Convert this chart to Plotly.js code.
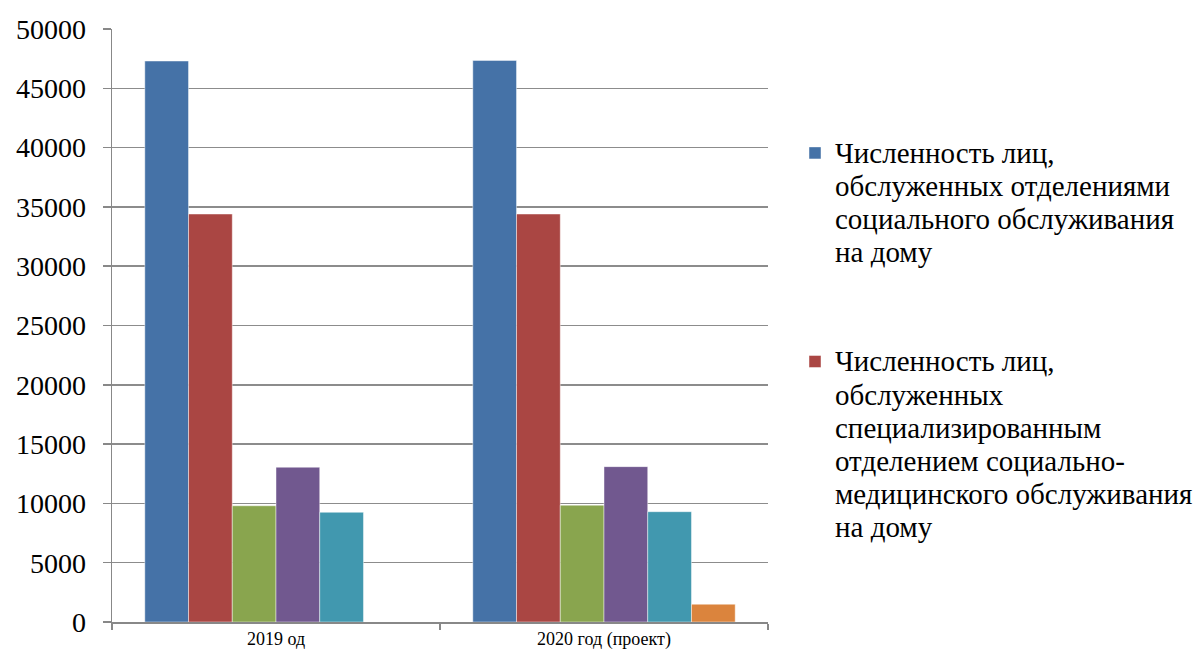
<!DOCTYPE html>
<html>
<head>
<meta charset="utf-8">
<script src="https://cdn.plot.ly/plotly-3.0.1.min.js"></script>
<style>html,body{margin:0;padding:0;background:#fff;}#chart{width:1200px;height:655px;}</style>
</head>
<body>
<div id="chart"></div>
<script>
const categories = ["2019 од", "2020 год (проект)"];
const seriesLines = [
  ["Численность лиц,", "обслуженных отделениями", "социального обслуживания", "на дому"],
  ["Численность лиц,", "обслуженных", "специализированным", "отделением социально-", "медицинского обслуживания", "на дому"],
  ["Ряд 3"],
  ["Ряд 4"],
  ["Ряд 5"],
  ["Ряд 6"]
];
const series1 = [47300, 47350];
const series2 = [34400, 34400];
const series3 = [9800, 9850];
const series4 = [13050, 13100];
const series5 = [9250, 9300];
const series6 = [null, 1500];
const yTicks = [0, 5000, 10000, 15000, 20000, 25000, 30000, 35000, 40000, 45000, 50000];

const colors = ["#4572A7", "#AA4643", "#89A54E", "#71588F", "#4198AF", "#DB843D"];
const allSeries = [series1, series2, series3, series4, series5, series6];
const FONT = "Liberation Serif";

const traces = allSeries.map((vals, i) => ({
  type: "bar",
  x: categories,
  y: vals,
  name: seriesLines[i].map(l => '<span style="font-family:Liberation Serif;font-size:29px">' + l + '</span>').join("<br>"),
  legendgroup: "g" + i,
  showlegend: i < 2,
  marker: {color: colors[i], line: {color: "rgba(255,255,255,0.45)", width: 1}},
  hoverinfo: "x+y"
}));

const layout = {
  width: 1200,
  height: 655,
  margin: {l: 112, r: 432, t: 29, b: 33},
  paper_bgcolor: "#fff",
  plot_bgcolor: "#fff",
  barmode: "group",
  bargap: 0.2,
  bargroupgap: 0,
  xaxis: {
    type: "category",
    tickson: "boundaries",
    ticks: "outside",
    ticklen: 6,
    tickcolor: "#888",
    tickwidth: 1.5,
    showline: true,
    linecolor: "#888",
    linewidth: 1.5,
    showgrid: false,
    tickfont: {size: 18, family: FONT, color: "#000"},
    automargin: false
  },
  yaxis: {
    range: [0, 50000],
    tickvals: yTicks,
    ticktext: yTicks.map(String),
    ticks: "outside",
    ticklen: 8,
    tickcolor: "#888",
    tickwidth: 1.5,
    showline: true,
    linecolor: "#888",
    linewidth: 1.5,
    showgrid: true,
    gridcolor: "#8c8c8c",
    gridwidth: 1.5,
    zeroline: false,
    ticklabelstandoff: 11,
    tickfont: {size: 28, family: FONT, color: "#000"},
    automargin: false
  },
  legend: {
    xref: "container",
    yref: "container",
    x: 0.6625,
    xanchor: "left",
    y: 0.8018,
    yanchor: "top",
    valign: "top",
    maxheight: 520,
    traceorder: "grouped",
    tracegroupgap: 73,
    font: {size: 25.5, family: FONT, color: "#000"},
    itemwidth: 30,
    bgcolor: "rgba(0,0,0,0)"
  },
  showlegend: true
};

Plotly.newPlot("chart", traces, layout, {displayModeBar: false, staticPlot: true});
</script>
</body>
</html>
